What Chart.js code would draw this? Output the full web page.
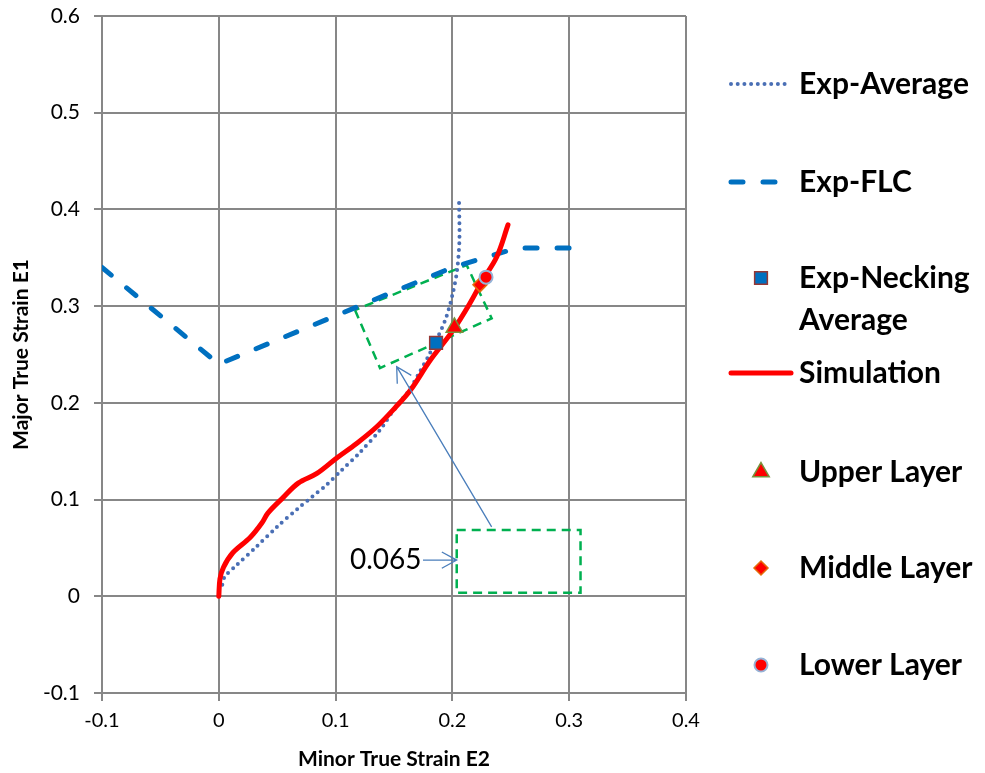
<!DOCTYPE html>
<html>
<head>
<meta charset="utf-8">
<title>Strain path</title>
<script src="https://cdn.jsdelivr.net/npm/chart.js@4"></script>
<style>
  html, body { margin: 0; padding: 0; background: #fff; }
  #wrap { width: 985px; height: 773px; position: relative; }
</style>
</head>
<body>
<div id="wrap"><canvas id="myChart"></canvas></div>
<script>
// Tick labels
const xTickLabels = ['-0.1', '0', '0.1', '0.2', '0.3', '0.4'];
const yTickLabels = ['-0.1', '0', '0.1', '0.2', '0.3', '0.4', '0.5', '0.6'];

// Exp-Average (dotted)
const expAverageE2 = [0.003, 0.005, 0.015, 0.032, 0.050, 0.068, 0.080, 0.092, 0.104, 0.121, 0.138, 0.151, 0.163, 0.172, 0.181, 0.194, 0.2005, 0.204, 0.206, 0.2057];
const expAverageE1 = [0.012, 0.020, 0.032, 0.051, 0.072, 0.091, 0.103, 0.115, 0.129, 0.149, 0.172, 0.195, 0.213, 0.232, 0.252, 0.286, 0.314, 0.337, 0.368, 0.407];

// Exp-FLC (dashed)
const flcE2 = [-0.1, 0, 0.1, 0.2, 0.255, 0.315];
const flcE1 = [0.34, 0.24, 0.29, 0.34, 0.36, 0.36];

// Simulation
const simE2 = [0, 0.001, 0.004, 0.012, 0.027, 0.037, 0.042, 0.055, 0.068, 0.084, 0.101, 0.118, 0.135, 0.151, 0.164, 0.181, 0.2005, 0.215, 0.226, 0.238, 0.2476];
const simE1 = [0, 0.018, 0.030, 0.045, 0.061, 0.076, 0.086, 0.102, 0.117, 0.127, 0.143, 0.158, 0.175, 0.195, 0.213, 0.244, 0.275, 0.303, 0.327, 0.351, 0.384];

// Single points
const neckingPoint = [0.186, 0.262];
const upperPoint = [0.2017, 0.278];
const middlePoint = [0.2236, 0.322];
const lowerPoint = [0.2288, 0.330];

// Green dashed boxes (closed outlines)
const zoomBoxE2 = [0.1166, 0.138, 0.2336, 0.2122, 0.1166];
const zoomBoxE1 = [0.296, 0.236, 0.2874, 0.3425, 0.296];
const insetBoxE2 = [0.2037, 0.3097, 0.3097, 0.2037, 0.2037];
const insetBoxE1 = [0.0685, 0.0685, 0.0036, 0.0036, 0.0685];

// Arrows and label [x1, y1, x2, y2] in data units
const arrowUp = [0.2336, 0.0717, 0.1523, 0.2374];
const arrowRight = [0.1748, 0.0374, 0.2037, 0.0374];
const widthLabel = ['0.065', 0.1123, 0.0374];

function toPoints(xs, ys) {
    return xs.map((x, i) => ({ x: x, y: ys[i] }));
}

const FONT = 'Lato, "Open Sans", "DejaVu Sans", sans-serif';
const GRID = '#878787';

// draws open arrows and the 0.065 note
const annotationPlugin = {
    id: 'annotations',
    afterDatasetsDraw(chart) {
        const ctx = chart.ctx;
        const xs = chart.scales.x, ys = chart.scales.y;
        ctx.save();
        function arrow(a) {
            const x1 = xs.getPixelForValue(a[0]), y1 = ys.getPixelForValue(a[1]);
            const x2 = xs.getPixelForValue(a[2]), y2 = ys.getPixelForValue(a[3]);
            const ang = Math.atan2(y2 - y1, x2 - x1);
            const len = 17, spread = 0.5;
            ctx.strokeStyle = '#4A7EBB';
            ctx.lineWidth = 1.3;
            ctx.beginPath();
            ctx.moveTo(x1, y1);
            ctx.lineTo(x2, y2);
            ctx.moveTo(x2 - len * Math.cos(ang - spread), y2 - len * Math.sin(ang - spread));
            ctx.lineTo(x2, y2);
            ctx.lineTo(x2 - len * Math.cos(ang + spread), y2 - len * Math.sin(ang + spread));
            ctx.stroke();
        }
        arrow(arrowUp);
        arrow(arrowRight);
        ctx.fillStyle = '#000';
        ctx.font = '28px ' + FONT;
        ctx.textAlign = 'left';
        ctx.textBaseline = 'middle';
        ctx.fillText(widthLabel[0], xs.getPixelForValue(widthLabel[1]), ys.getPixelForValue(widthLabel[2]));
        ctx.restore();
    }
};

function drawMarker(ctx, ds, x, y) {
    const r = ds.pointRadius;
    ctx.fillStyle = ds.pointBackgroundColor;
    ctx.strokeStyle = ds.pointBorderColor;
    ctx.lineWidth = ds.pointBorderWidth;
    ctx.setLineDash([]);
    ctx.beginPath();
    if (ds.pointStyle === 'rect') {
        const s = Math.SQRT1_2 * r;
        ctx.rect(x - s, y - s, 2 * s, 2 * s);
    } else if (ds.pointStyle === 'triangle') {
        ctx.moveTo(x, y - r);
        ctx.lineTo(x + r * Math.sin(Math.PI / 3), y + r / 2);
        ctx.lineTo(x - r * Math.sin(Math.PI / 3), y + r / 2);
        ctx.closePath();
    } else if (ds.pointStyle === 'rectRot') {
        ctx.moveTo(x, y - r);
        ctx.lineTo(x + r, y);
        ctx.lineTo(x, y + r);
        ctx.lineTo(x - r, y);
        ctx.closePath();
    } else {
        ctx.arc(x, y, r, 0, Math.PI * 2);
    }
    ctx.fill();
    ctx.stroke();
}

// legend on the right, spaced like the original
const sideLegend = {
    id: 'sideLegend',
    afterDraw(chart) {
        const ctx = chart.ctx;
        const rows = [84, 182, 278, 373, 472, 568, 665];
        const items = chart.data.datasets.filter(d => d.inLegend);
        ctx.save();
        items.forEach((ds, i) => {
            const y = rows[i];
            if (ds.showLine) {
                ctx.strokeStyle = ds.borderColor;
                ctx.lineWidth = ds.borderWidth;
                ctx.lineCap = ds.borderCapStyle || 'butt';
                ctx.setLineDash(ds.borderDash || []);
                ctx.beginPath();
                ctx.moveTo(731, y);
                ctx.lineTo(ds.legendEnd || 790, y);
                ctx.stroke();
            } else {
                drawMarker(ctx, ds, 761, y);
            }
            ctx.fillStyle = '#000';
            ctx.font = 'bold 30px ' + FONT;
            ctx.textAlign = 'left';
            ctx.textBaseline = 'middle';
            ds.label.split('\n').forEach((line, k) => {
                ctx.fillText(line, 799, y + k * 42);
            });
        });
        ctx.restore();
    }
};

const ctx = document.getElementById('myChart').getContext('2d');
new Chart(ctx, {
    type: 'scatter',
    data: {
        datasets: [
            {
                label: 'Lower Layer', inLegend: true, data: [{ x: lowerPoint[0], y: lowerPoint[1] }],
                pointStyle: 'circle', pointRadius: 6.5, pointBackgroundColor: '#FF0000',
                pointBorderColor: '#95B3D7', pointBorderWidth: 2, order: 1
            },
            {
                label: 'Middle Layer', inLegend: true, data: [{ x: middlePoint[0], y: middlePoint[1] }],
                pointStyle: 'rectRot', pointRadius: 7, pointBackgroundColor: '#FF0000',
                pointBorderColor: '#E46C0A', pointBorderWidth: 1.5, order: 2
            },
            {
                label: 'Upper Layer', inLegend: true, data: [{ x: upperPoint[0], y: upperPoint[1] }],
                pointStyle: 'triangle', pointRadius: 9.5, pointBackgroundColor: '#FF0000',
                pointBorderColor: '#77933C', pointBorderWidth: 1.5, order: 3
            },
            {
                label: 'Simulation', inLegend: true, data: toPoints(simE2, simE1), showLine: true,
                borderColor: '#FF0000', borderWidth: 5, borderCapStyle: 'round', borderJoinStyle: 'round',
                tension: 0.35, pointRadius: 0, legendEnd: 791, order: 5
            },
            {
                label: 'Exp-Necking\nAverage', inLegend: true, data: [{ x: neckingPoint[0], y: neckingPoint[1] }],
                pointStyle: 'rect', pointRadius: 9, pointBackgroundColor: '#0070C0',
                pointBorderColor: '#953735', pointBorderWidth: 1.5, order: 4
            },
            {
                label: 'Exp-FLC', inLegend: true, data: toPoints(flcE2, flcE1), showLine: true,
                borderColor: '#0070C0', borderWidth: 5, borderDash: [12, 20], borderCapStyle: 'round',
                pointRadius: 0, legendEnd: 779, order: 7
            },
            {
                label: 'Exp-Average', inLegend: true, data: toPoints(expAverageE2, expAverageE1), showLine: true,
                borderColor: '#4A6FB5', borderWidth: 4, borderDash: [0, 6.7], borderCapStyle: 'round',
                tension: 0.3, pointRadius: 0, legendEnd: 788, order: 6
            },
            {
                label: 'zoom box', data: toPoints(zoomBoxE2, zoomBoxE1), showLine: true,
                borderColor: '#00B050', borderWidth: 2.5, borderDash: [9, 6], pointRadius: 0, order: 8
            },
            {
                label: 'inset box', data: toPoints(insetBoxE2, insetBoxE1), showLine: true,
                borderColor: '#00B050', borderWidth: 2.5, borderDash: [9, 6], pointRadius: 0, order: 8
            }
        ].reverse()
    },
    options: {
        responsive: true,
        maintainAspectRatio: false,
        animation: false,
        layout: { padding: { top: 16, right: 299, bottom: 0, left: 0 } },
        plugins: {
            legend: { display: false },
            tooltip: { enabled: false }
        },
        scales: {
            x: {
                type: 'linear', min: -0.1, max: 0.4,
                ticks: {
                    stepSize: 0.1, padding: 8, color: '#000',
                    font: { family: FONT, size: 20 },
                    callback: (v, i) => xTickLabels[i]
                },
                grid: { color: GRID, lineWidth: 2, tickLength: 8 },
                border: { color: GRID, width: 2 },
                title: {
                    display: true, text: 'Minor True Strain E2', color: '#000',
                    font: { family: FONT, size: 21, weight: 'bold' }, padding: { top: 0, bottom: 1 }
                },
                afterFit: s => { s.height = 80; s.paddingLeft = 0; s.paddingRight = 0; }
            },
            y: {
                type: 'linear', min: -0.1, max: 0.6,
                ticks: {
                    stepSize: 0.1, padding: 14, color: '#000',
                    font: { family: FONT, size: 21 },
                    callback: (v, i) => yTickLabels[i]
                },
                grid: { color: GRID, lineWidth: 2, tickLength: 8 },
                border: { color: GRID, width: 2 },
                title: {
                    display: true, text: 'Major True Strain E1', color: '#000',
                    font: { family: FONT, size: 21, weight: 'bold' }, padding: { top: 9, bottom: 0 }
                },
                afterFit: s => { s.width = 102; s.paddingTop = 0; s.paddingBottom = 0; }
            }
        }
    },
    plugins: [annotationPlugin, sideLegend]
});
</script>
</body>
</html>
